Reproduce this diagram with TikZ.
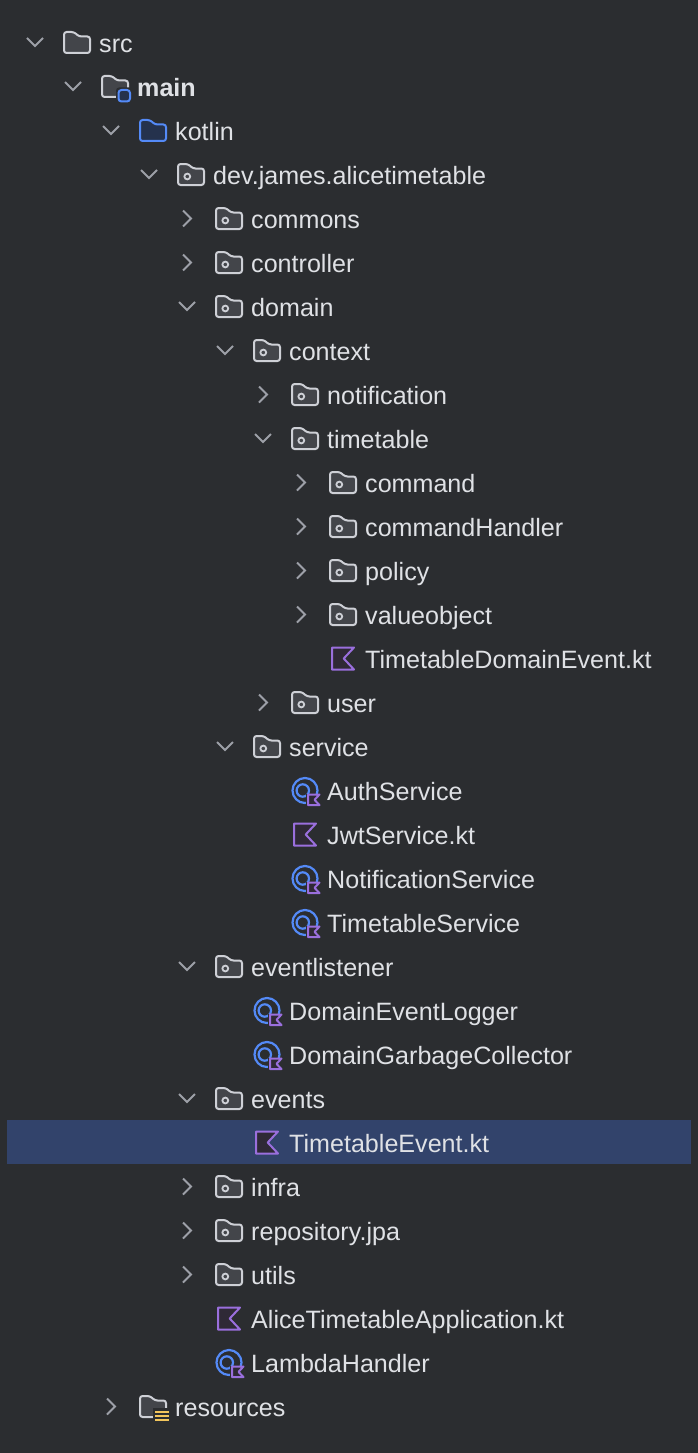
\documentclass[tikz,border=0pt]{standalone}
\usepackage{fontspec}
\setmainfont{Liberation Sans}
\definecolor{panel_bg}{HTML}{2B2D30}
\definecolor{row_sel}{HTML}{32436B}
\definecolor{label_fg}{HTML}{DFE1E5}
\definecolor{chev_fg}{HTML}{9DA0A8}
\definecolor{folder_fg}{HTML}{CED0D6}
\definecolor{folder_bg}{HTML}{43454A}
\definecolor{blue_fg}{HTML}{548AF7}
\definecolor{blue_bg}{HTML}{25324D}
\definecolor{kt_fg}{HTML}{9A6FDD}
\definecolor{kt_bg}{HTML}{2F2936}
\definecolor{res_fg}{HTML}{F2C55C}
\tikzset{
	tree_label/.style = {anchor=base west, inner sep=0pt, text=label_fg,
		font=\fontsize{25.1}{30}\selectfont},
	chev/.style = {draw=chev_fg, line width=1.9pt, line join=miter},
	folder_line/.style = {draw=folder_fg, fill=folder_bg, line width=2pt, rounded corners=2.6pt},% grey folder
	kt_line/.style = {draw=kt_fg, fill=kt_bg, line width=2pt, line join=round},% kotlin mark
	chev_down/.pic = {\draw [chev] (-8,-4.5) -- (0,3.5) -- (8,-4.5);},
	chev_right/.pic = {\draw [chev] (-4,-8) -- (4,0) -- (-4,8);},
	chev_none/.pic = {},
	folder_shape/.pic = {\path [pic actions] (-13,10.5) -- (-13,-10.5) -- (-3,-10.5) -- (2,-6) -- (13,-6) -- (13,10.5) -- cycle;},
	folder_plain/.pic = {\pic [folder_line] {folder_shape};},
	folder_pkg/.pic = {\pic [folder_line] {folder_shape};
		\draw [folder_fg, line width=1.8pt] (-3.7,2) circle (2.9);},
	folder_src/.pic = {\pic [folder_line, draw=blue_fg, fill=blue_bg] {folder_shape};},
	folder_main/.pic = {\pic [folder_line] {folder_shape};
		\fill [panel_bg, rounded corners=3pt] (1,1) rectangle (17,17);
		\draw [draw=blue_fg, fill=blue_bg, line width=2pt, rounded corners=3pt] (3.5,3.5) rectangle (15,15);},
	folder_res/.pic = {\pic [folder_line] {folder_shape};
		\fill [panel_bg] (0,1) rectangle (17,15);
		\draw [res_fg, line width=2pt] (2,5) -- (16,5) (2,9) -- (16,9) (2,13) -- (16,13);},
	kt_file/.pic = {\path [kt_line] (-11,-11) -- (11,-11) -- (0.7,0) -- (11,11) -- (-11,11) -- cycle;},
	kt_class/.pic = {\draw [blue_fg, line width=2.2pt] (0,0) circle (12.5);
		\draw [blue_fg, line width=2.2pt] (-2.2,0) circle (6.2);
		\fill [panel_bg] (1,3) rectangle (17,17);
		\draw [kt_fg, fill=kt_bg, line width=2pt, line join=round] (3,4) -- (14.5,4) -- (9.5,9.3) -- (14.5,14.6) -- (3,14.6) -- cycle;},
}
% depth, row, chevron, icon, node name, text
\newcommand{\treerow}[6]{
	\pic at ({35+38*#1},{42.5+44*#2}) {#3};
	\pic at ({77+38*#1},{42.5+44*#2}) {#4};
	\node [tree_label] (#5) at ({99+38*#1},{52.5+44*#2}) {#6};
}
\begin{document}
\begin{tikzpicture}[x=1pt,y=-1pt]
\useasboundingbox [fill=panel_bg] (0,0) rectangle (698,1453);
\fill [row_sel] (7,1120) rectangle (691,1164);% selected row
\treerow{0}{0}{chev_down}{folder_plain}{src}{src}
\treerow{1}{1}{chev_down}{folder_main}{main}{\textbf{main}}
\treerow{2}{2}{chev_down}{folder_src}{kotlin}{kotlin}
\treerow{3}{3}{chev_down}{folder_pkg}{alicetimetable}{dev.james.alicetimetable}
\treerow{4}{4}{chev_right}{folder_pkg}{commons}{commons}
\treerow{4}{5}{chev_right}{folder_pkg}{controller}{controller}
\treerow{4}{6}{chev_down}{folder_pkg}{domain}{domain}
\treerow{5}{7}{chev_down}{folder_pkg}{context}{context}
\treerow{6}{8}{chev_right}{folder_pkg}{notification}{notification}
\treerow{6}{9}{chev_down}{folder_pkg}{timetable}{timetable}
\treerow{7}{10}{chev_right}{folder_pkg}{command}{command}
\treerow{7}{11}{chev_right}{folder_pkg}{commandHandler}{commandHandler}
\treerow{7}{12}{chev_right}{folder_pkg}{policy}{policy}
\treerow{7}{13}{chev_right}{folder_pkg}{valueobject}{valueobject}
\treerow{7}{14}{chev_none}{kt_file}{domainEventFile}{TimetableDomainEvent.kt}
\treerow{6}{15}{chev_right}{folder_pkg}{user}{user}
\treerow{5}{16}{chev_down}{folder_pkg}{service}{service}
\treerow{6}{17}{chev_none}{kt_class}{authService}{AuthService}
\treerow{6}{18}{chev_none}{kt_file}{jwtService}{JwtService.kt}
\treerow{6}{19}{chev_none}{kt_class}{notificationService}{NotificationService}
\treerow{6}{20}{chev_none}{kt_class}{timetableService}{TimetableService}
\treerow{4}{21}{chev_down}{folder_pkg}{eventlistener}{eventlistener}
\treerow{5}{22}{chev_none}{kt_class}{eventLogger}{DomainEventLogger}
\treerow{5}{23}{chev_none}{kt_class}{garbageCollector}{DomainGarbageCollector}
\treerow{4}{24}{chev_down}{folder_pkg}{events}{events}
\treerow{5}{25}{chev_none}{kt_file}{timetableEvent}{TimetableEvent.kt}
\treerow{4}{26}{chev_right}{folder_pkg}{infra}{infra}
\treerow{4}{27}{chev_right}{folder_pkg}{repositoryJpa}{repository.jpa}
\treerow{4}{28}{chev_right}{folder_pkg}{utils}{utils}
\treerow{4}{29}{chev_none}{kt_file}{application}{AliceTimetableApplication.kt}
\treerow{4}{30}{chev_none}{kt_class}{lambdaHandler}{LambdaHandler}
\treerow{2}{31}{chev_right}{folder_res}{resources}{resources}
\end{tikzpicture}
\end{document}
